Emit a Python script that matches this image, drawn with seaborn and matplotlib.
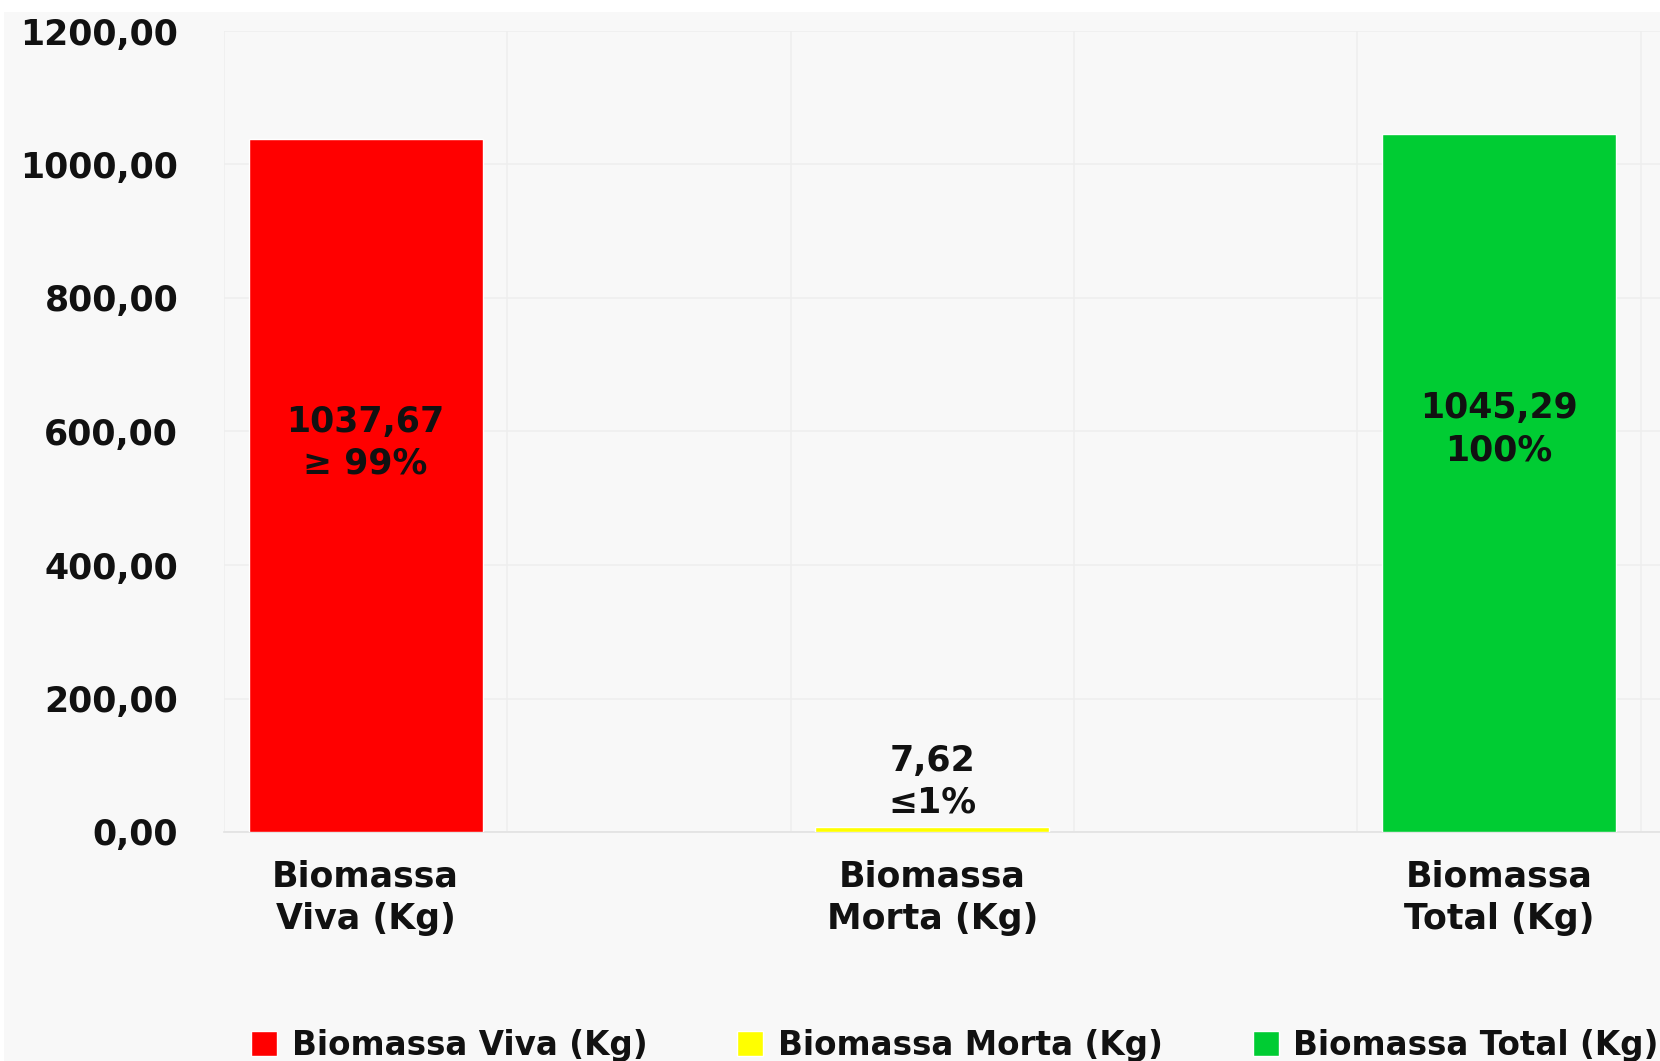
import matplotlib
matplotlib.use('Agg')
import matplotlib.pyplot as plt
import seaborn as sns
import pandas as pd
from matplotlib.patches import Rectangle

# Chart data
categories = ['Biomassa Viva (Kg)', 'Biomassa Morta (Kg)', 'Biomassa Total (Kg)']
tick_labels = ['Biomassa\nViva (Kg)', 'Biomassa\nMorta (Kg)', 'Biomassa\nTotal (Kg)']
values = [1037.67, 7.62, 1045.29]
value_labels = ['1037,67\n≥ 99%', '7,62\n≤1%', '1045,29\n100%']
colors = ['#FF0000', '#FFFF00', '#00CC33']

# label heights (layout only)
label_y = [583, 75, 603]

df = pd.DataFrame({'categoria': categories, 'valor': values})

sns.set_theme(style='white')
plt.rcParams['font.family'] = ['DejaVu Sans']

bg = '#F8F8F8'
grid_c = '#EEEEEE'
text_c = '#111111'

fig = plt.figure(figsize=(16.6, 10.61), dpi=100, facecolor='white')
fig.patches.append(Rectangle((4 / 1660, 0), 1, 1 - 12 / 1061, transform=fig.transFigure,
                             facecolor=bg, edgecolor='none', zorder=-10))

ax = fig.add_axes([224 / 1660, 1 - 832 / 1061, 1 - 224 / 1660, (832 - 31) / 1061])
ax.set_facecolor(bg)

sns.barplot(data=df, x='categoria', y='valor', hue='categoria', palette=colors,
            width=0.413, dodge=False, saturation=1, legend=True, ax=ax, zorder=3)

ax.set_ylim(0, 1200)
ax.set_xlim(-0.25, 2.284)
ax.set_yticks(range(0, 1201, 200))
ax.set_yticklabels([f'{v},00' for v in range(0, 1201, 200)])
ax.set_xticks(range(len(categories)))
ax.set_xticklabels(tick_labels, linespacing=1.3)
ax.set_xlabel('')
ax.set_ylabel('')

# grid
ax.set_xticks([-0.25, 0.25, 0.75, 1.25, 1.75, 2.25], minor=True)
ax.grid(True, axis='y', color=grid_c, linewidth=1.1, zorder=0)
ax.grid(True, axis='x', which='minor', color=grid_c, linewidth=1.1, zorder=0)
ax.grid(False, axis='x', which='major')
ax.tick_params(axis='x', which='minor', length=8, color=grid_c, width=1.1, direction='out')
ax.tick_params(axis='x', which='major', length=0, pad=20, labelsize=25, labelcolor=text_c)
ax.tick_params(axis='y', length=0, pad=33, labelsize=25, labelcolor=text_c)
for lab in ax.get_xticklabels() + ax.get_yticklabels():
    lab.set_fontweight('bold')

for s in ['top', 'right', 'left']:
    ax.spines[s].set_visible(False)
ax.spines['bottom'].set_color('#E2E2E2')
ax.spines['bottom'].set_linewidth(1.2)

# value labels
for i, txt in enumerate(value_labels):
    ax.text(i, label_y[i], txt, ha='center', va='center', fontsize=25,
            fontweight='bold', color=text_c, linespacing=1.3, zorder=5)

# legend at the bottom
handles, labels = ax.get_legend_handles_labels()
if ax.legend_:
    ax.legend_.remove()
fig.legend(handles, labels, loc='center left', bbox_to_anchor=(251 / 1660, 1 - 1045 / 1061),
           ncol=3, frameon=False, handlelength=0.8, handleheight=0.8,
           handletextpad=0.45, columnspacing=2.75, borderpad=0, borderaxespad=0,
           prop={'weight': 'bold', 'size': 23.5})
for t in fig.legends[0].get_texts():
    t.set_color(text_c)

fig.savefig('out.png', dpi=100, facecolor=fig.get_facecolor())
